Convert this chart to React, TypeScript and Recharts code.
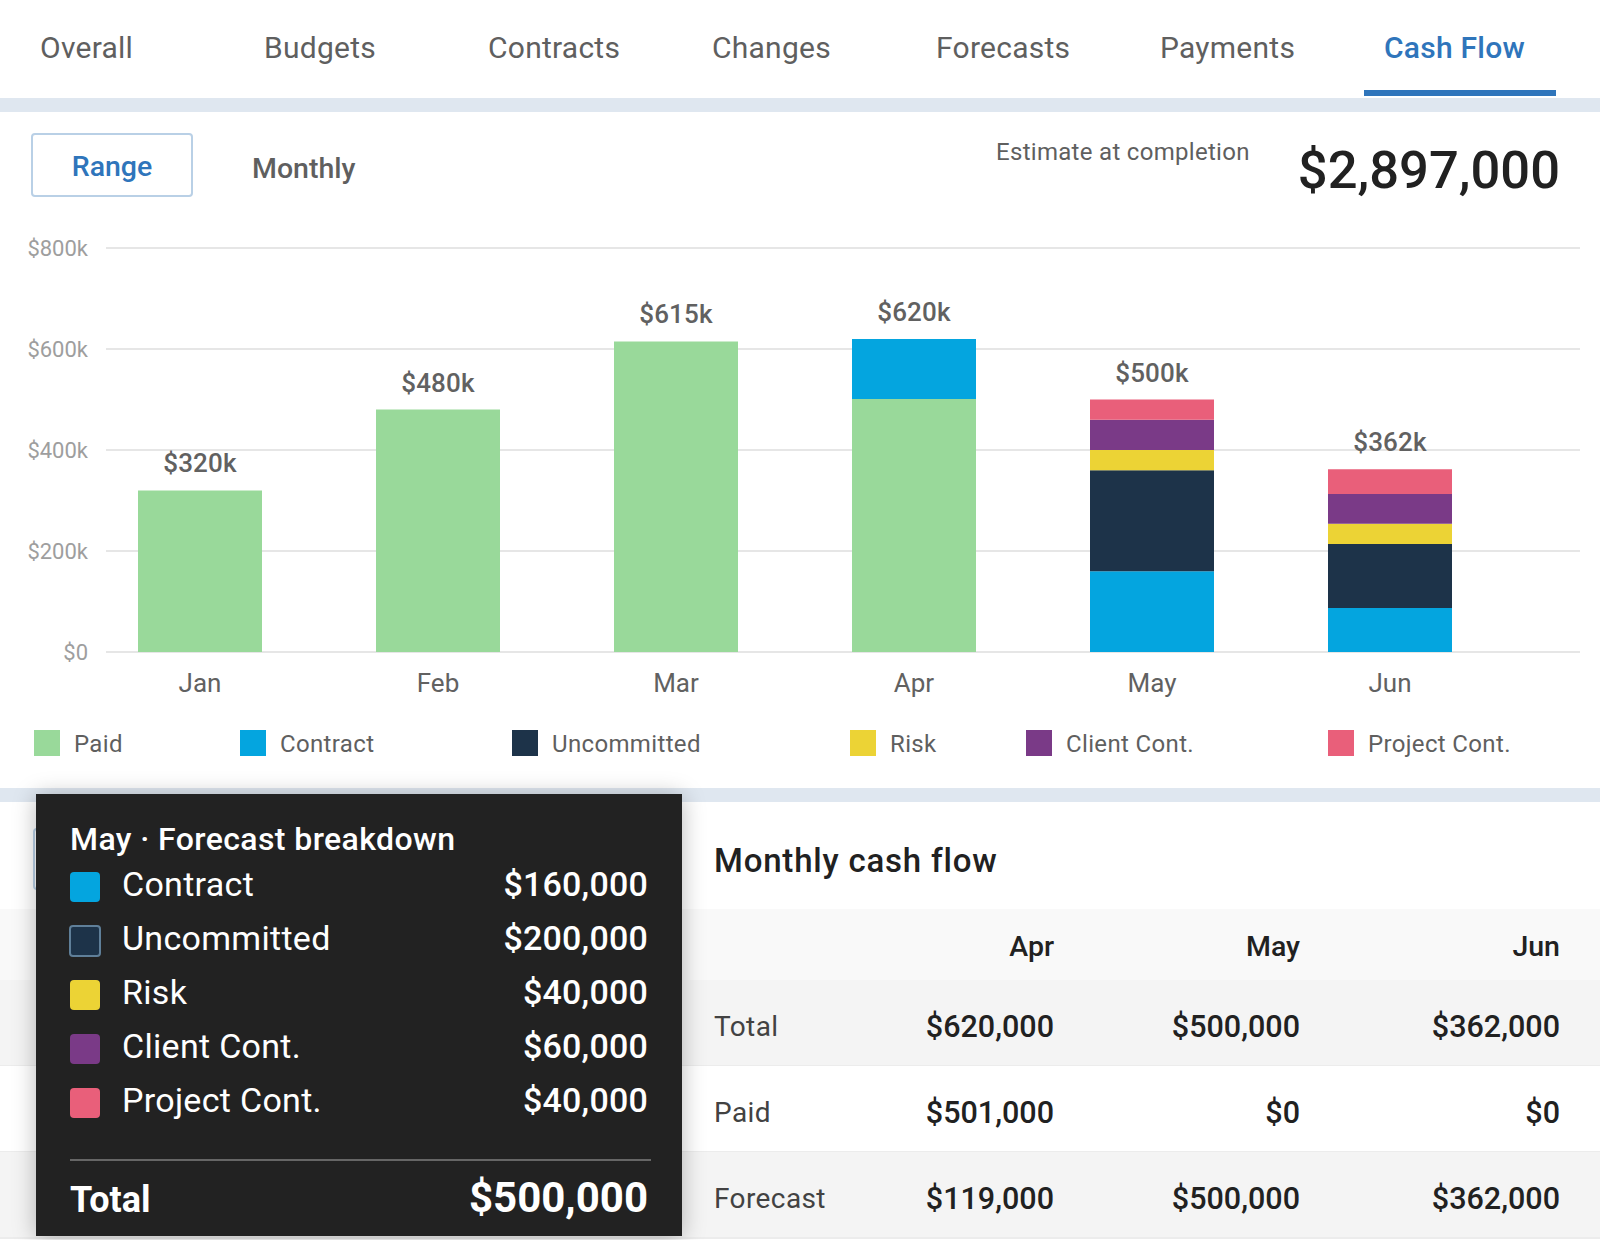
import React from "react";
import {
  ComposedChart,
  Bar,
  Line,
  XAxis,
  YAxis,
  CartesianGrid,
  LabelList,
  Tooltip,
} from "recharts";

const months = ["Jan", "Feb", "Mar", "Apr", "May", "Jun"];
const paid = [320, 480, 615, 501, 0, 0];
const contract = [0, 0, 0, 119, 160, 87];
const uncommitted = [0, 0, 0, 0, 200, 127];
const risk = [0, 0, 0, 0, 40, 40];
const clientCont = [0, 0, 0, 0, 60, 59];
const projectCont = [0, 0, 0, 0, 40, 49];
const totals = [320, 480, 615, 620, 500, 362];
const yTicks = [0, 200, 400, 600, 800];

const tabs = ["Overall", "Budgets", "Contracts", "Changes", "Forecasts", "Payments", "Cash Flow"];
const tabLefts = [40, 264, 488, 712, 936, 1160, 1384];

const tableColumns = ["Apr", "May", "Jun"];
const tableRows = ["Total", "Paid", "Forecast"];
const tableValues = [
  ["$620,000", "$500,000", "$362,000"],
  ["$501,000", "$0", "$0"],
  ["$119,000", "$500,000", "$362,000"],
];

const SERIES = [
  { key: "paid", name: "Paid", color: "#99d99a" },
  { key: "contract", name: "Contract", color: "#04a5df" },
  { key: "uncommitted", name: "Uncommitted", color: "#1d3349" },
  { key: "risk", name: "Risk", color: "#ecd335" },
  { key: "clientCont", name: "Client Cont.", color: "#7a3a87" },
  { key: "projectCont", name: "Project Cont.", color: "#e95f7a" },
];
const legendLefts = [34, 240, 512, 850, 1026, 1328];

const chartData = months.map((month, i) => ({
  month,
  paid: paid[i],
  contract: contract[i],
  uncommitted: uncommitted[i],
  risk: risk[i],
  clientCont: clientCont[i],
  projectCont: projectCont[i],
  total: totals[i],
}));

const FONT = "Roboto, sans-serif";
const columnRights = [1054, 1300, 1560];
const rowTops = [980, 1066, 1152];

function money(k: number): string {
  return "$" + (k * 1000).toLocaleString("en-US");
}

// right is the gap to the right edge of the parent
function Text({ x, right, cy, size, weight = 400, color = "#5f5f5f", spacing = 0, children }: any) {
  return (
    <div
      style={{
        position: "absolute",
        left: x,
        right,
        top: cy - 30,
        height: 60,
        lineHeight: "60px",
        fontSize: size,
        fontWeight: weight,
        color,
        letterSpacing: spacing,
        whiteSpace: "nowrap",
      }}
    >
      {children}
    </div>
  );
}

function BreakdownTooltip({ payload, label }: any) {
  const items = (payload || []).filter((p: any) => p.dataKey !== "paid" && p.dataKey !== "total");
  return (
    <div
      style={{
        width: 646,
        height: 442,
        background: "#222222",
        boxShadow: "0 2px 22px rgba(0,0,0,0.28)",
        position: "relative",
        fontFamily: FONT,
      }}
    >
      <Text x={34} cy={45} size={32} weight={500} color="#fff" spacing={0.4}>
        {label} · Forecast breakdown
      </Text>
      {items.map((item: any, i: number) => {
        const outlined = item.dataKey === "uncommitted";
        return (
          <React.Fragment key={item.dataKey}>
            <div
              style={{
                position: "absolute",
                left: outlined ? 33 : 34,
                top: (outlined ? 77 : 78) + i * 54,
                width: outlined ? 32 : 30,
                height: outlined ? 32 : 30,
                boxSizing: "border-box",
                borderRadius: 4,
                background: item.color,
                border: outlined ? "2px solid #5f7f99" : "none",
              }}
            />
            <Text x={86} cy={90 + i * 54} size={34} color="#fff" spacing={0.3}>
              {item.name}
            </Text>
            <Text right={34} cy={90 + i * 54} size={34} weight={500} color="#fff" spacing={0.2}>
              {money(item.value)}
            </Text>
          </React.Fragment>
        );
      })}
      <div style={{ position: "absolute", left: 34, top: 365, width: 581, height: 2, background: "#666" }} />
      <Text x={34} cy={406} size={36} weight={700} color="#fff">
        Total
      </Text>
      <Text right={34} cy={404} size={42} weight={700} color="#fff">
        {money(items.reduce((sum: number, item: any) => sum + item.value, 0))}
      </Text>
    </div>
  );
}

export default function App() {
  return (
    <div
      style={{
        position: "absolute",
        left: 0,
        top: 0,
        width: 1600,
        height: 1240,
        overflow: "hidden",
        background: "#fff",
        fontFamily: FONT,
      }}
    >
      {tabs.map((tab, i) => (
        <Text
          key={tab}
          x={tabLefts[i]}
          cy={48}
          size={30}
          weight={i === 6 ? 500 : 400}
          color={i === 6 ? "#2f75bb" : "#5f5f5f"}
          spacing={0.25}
        >
          {tab}
        </Text>
      ))}
      <div style={{ position: "absolute", left: 1364, top: 90, width: 192, height: 6, background: "#2f75bb" }} />
      <div style={{ position: "absolute", left: 0, top: 98, width: 1600, height: 14, background: "#dfe7f0" }} />

      <div
        style={{
          position: "absolute",
          left: 31,
          top: 133,
          width: 162,
          height: 64,
          boxSizing: "border-box",
          border: "2px solid #b9d0e6",
          borderRadius: 4,
          textAlign: "center",
          lineHeight: "64px",
          fontSize: 28.5,
          fontWeight: 500,
          color: "#2f75bb",
        }}
      >
        Range
      </div>
      <Text x={252} cy={169} size={28.5} weight={500}>
        Monthly
      </Text>
      <Text x={996} cy={152} size={24} spacing={0.3}>
        Estimate at completion
      </Text>
      <Text right={40} cy={170} size={52.5} weight={500} color="#212121">
        $2,897,000
      </Text>

      <div style={{ position: "absolute", left: 0, top: 788, width: 1600, height: 14, background: "#dfe7f0" }} />

      {/* button that sits behind the tooltip */}
      <div
        style={{
          position: "absolute",
          left: 33,
          top: 828,
          width: 160,
          height: 62,
          boxSizing: "border-box",
          border: "2px solid #b9d0e6",
          borderRadius: 4,
        }}
      />

      <div style={{ position: "absolute", left: 0, top: 909, width: 1600, height: 71, background: "#f9f9f9" }} />
      <Text x={714} cy={861} size={33} weight={500} color="#212121" spacing={0.8}>
        Monthly cash flow
      </Text>
      {tableColumns.map((c, i) => (
        <Text key={c} right={1600 - columnRights[i]} cy={947} size={28.5} weight={500} color="#212121">
          {c}
        </Text>
      ))}
      {tableRows.map((row, r) => (
        <React.Fragment key={row}>
          <div
            style={{
              position: "absolute",
              left: 0,
              top: rowTops[r],
              width: 1600,
              height: 85,
              background: r === 1 ? "#fff" : "#f4f4f4",
              borderBottom: "2px solid #ececec",
            }}
          />
          <Text x={714} cy={rowTops[r] + 47} size={28} color="#424242" spacing={0.4}>
            {row}
          </Text>
          {tableValues[r].map((v, c) => (
            <Text key={c} right={1600 - columnRights[c]} cy={rowTops[r] + 47} size={30.5} weight={500} color="#212121">
              {v}
            </Text>
          ))}
        </React.Fragment>
      ))}

      <div style={{ position: "absolute", left: 0, top: 0 }}>
        <ComposedChart
          width={1600}
          height={780}
          data={chartData}
          margin={{ top: 248, right: 20, bottom: 0, left: 0 }}
        >
          <CartesianGrid vertical={false} stroke="#e6e6e6" strokeWidth={2} />
          <XAxis
            dataKey="month"
            height={128}
            padding={{ left: -25, right: 71 }}
            axisLine={false}
            tickLine={false}
            tickMargin={16}
            tick={{ fontSize: 26, fill: "#616161", fontFamily: FONT }}
          />
          <YAxis
            width={106}
            domain={[0, 800]}
            ticks={yTicks}
            axisLine={false}
            tickLine={false}
            tickMargin={12}
            tickFormatter={(v: number) => "$" + v + (v ? "k" : "")}
            tick={{ fontSize: 22, fill: "#9e9e9e", fontFamily: FONT }}
          />
          <Tooltip
            active
            defaultIndex={4}
            cursor={false}
            position={{ x: 36, y: 794 }}
            allowEscapeViewBox={{ x: true, y: true }}
            wrapperStyle={{ zIndex: 10 }}
            isAnimationActive={false}
            content={<BreakdownTooltip />}
          />
          {SERIES.map((s) => (
            <Bar
              key={s.key}
              dataKey={s.key}
              name={s.name}
              stackId="cash"
              fill={s.color}
              barSize={124}
              isAnimationActive={false}
              activeBar={false}
            />
          ))}
          <Line
            dataKey="total"
            stroke="none"
            dot={false}
            activeDot={false}
            legendType="none"
            isAnimationActive={false}
          >
            <LabelList
              dataKey="total"
              position="top"
              offset={18}
              formatter={(v: number) => "$" + v + "k"}
              style={{ fontSize: 26, fontWeight: 500, letterSpacing: 0.2, fill: "#616161", fontFamily: FONT }}
            />
          </Line>
        </ComposedChart>
      </div>

      {SERIES.map((s, i) => (
        <React.Fragment key={s.key}>
          <div
            style={{
              position: "absolute",
              left: legendLefts[i],
              top: 730,
              width: 26,
              height: 26,
              background: s.color,
            }}
          />
          <Text x={legendLefts[i] + 40} cy={743.5} size={24} spacing={0.35}>
            {s.name}
          </Text>
        </React.Fragment>
      ))}
    </div>
  );
}
